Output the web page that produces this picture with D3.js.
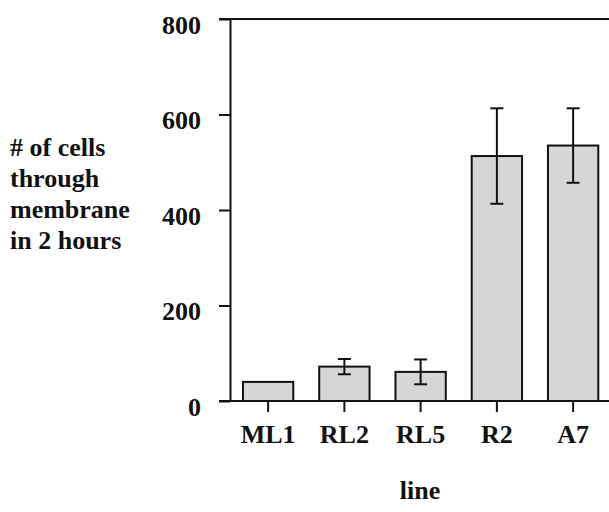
<!DOCTYPE html>
<html>
<head>
<meta charset="UTF-8">
<title>cells through membrane</title>
<script src="https://cdnjs.cloudflare.com/ajax/libs/d3/7.8.5/d3.min.js"></script>
<style>
  body { margin: 0; background: #fff; }
  svg text { font-family: "Liberation Serif", "Times New Roman", serif; font-weight: bold; fill: #111; }
</style>
</head>
<body>
<div id="chart"></div>
<script>
var lines = ["ML1", "RL2", "RL5", "R2", "A7"],
    cells = [40, 72, 61, 513, 535],
    errs = [0, 16, 26, 100, 78],
    yTicks = [0, 200, 400, 600, 800],
    yLabel = ["# of cells", "through", "membrane", "in 2 hours"];

var w = 609, h = 512;

var svg = d3.select("#chart").append("svg")
    .attr("width", w)
    .attr("height", h);

var x = d3.scaleBand()
    .domain(lines)
    .range([230, 611.25])
    .paddingInner(0.34)
    .paddingOuter(0.17);

var y = d3.scaleLinear()
    .domain([0, 800])
    .range([401, 19]);

var data = lines.map(function(d, i) {
    return { name: d, val: cells[i], err: errs[i] };
});

// bars
svg.selectAll("rect.bar")
    .data(data)
    .enter()
    .append("rect")
    .attr("class", "bar")
    .attr("x", d => x(d.name))
    .attr("y", d => y(d.val))
    .attr("width", x.bandwidth())
    .attr("height", d => y(0) - y(d.val))
    .attr("fill", "#d6d6d6")
    .attr("stroke", "#111")
    .attr("stroke-width", 2);

// error bars
var eb = svg.selectAll("g.err")
    .data(data.filter(d => d.err > 0))
    .enter()
    .append("g")
    .attr("class", "err")
    .attr("stroke", "#111")
    .attr("stroke-width", 2);

eb.append("line")
    .attr("x1", d => x(d.name) + x.bandwidth() / 2)
    .attr("x2", d => x(d.name) + x.bandwidth() / 2)
    .attr("y1", d => y(d.val + d.err))
    .attr("y2", d => y(d.val - d.err));

[1, -1].forEach(function(s) {
    eb.append("line")
        .attr("x1", d => x(d.name) + x.bandwidth() / 2 - 6.5)
        .attr("x2", d => x(d.name) + x.bandwidth() / 2 + 6.5)
        .attr("y1", d => y(d.val + s * d.err))
        .attr("y2", d => y(d.val + s * d.err));
});

// y axis
var yAxis = svg.append("g")
    .attr("transform", "translate(230,0)")
    .call(d3.axisLeft(y).tickValues(yTicks).tickSize(11).tickPadding(18).tickSizeOuter(0));

yAxis.select(".domain").attr("stroke", "#111").attr("stroke-width", 2);
yAxis.selectAll(".tick line").attr("stroke", "#111").attr("stroke-width", 2);
yAxis.selectAll(".tick text")
    .attr("font-size", 26)
    .attr("dy", 14)
    .attr("fill", "#111");

// x axis
var xAxis = svg.append("g")
    .attr("transform", "translate(0,401)")
    .call(d3.axisBottom(x).tickSize(11).tickPadding(13).tickSizeOuter(0));

xAxis.select(".domain").attr("d", "M219,0H609").attr("stroke", "#111").attr("stroke-width", 2);
xAxis.selectAll(".tick line").attr("stroke", "#111").attr("stroke-width", 2);
xAxis.selectAll(".tick text")
    .attr("font-size", 26)
    .attr("fill", "#111");

// top frame line
svg.append("line")
    .attr("x1", 219).attr("x2", 609)
    .attr("y1", y(800)).attr("y2", y(800))
    .attr("stroke", "#111")
    .attr("stroke-width", 2);

// axis titles
svg.append("text")
    .attr("x", 10)
    .attr("y", 156)
    .attr("font-size", 26)
    .selectAll("tspan")
    .data(yLabel)
    .enter()
    .append("tspan")
    .attr("x", 10)
    .attr("dy", (d, i) => i === 0 ? 0 : 31)
    .text(d => d);

svg.append("text")
    .attr("x", 420)
    .attr("y", 499)
    .attr("text-anchor", "middle")
    .attr("font-size", 26)
    .text("line");
</script>
</body>
</html>
